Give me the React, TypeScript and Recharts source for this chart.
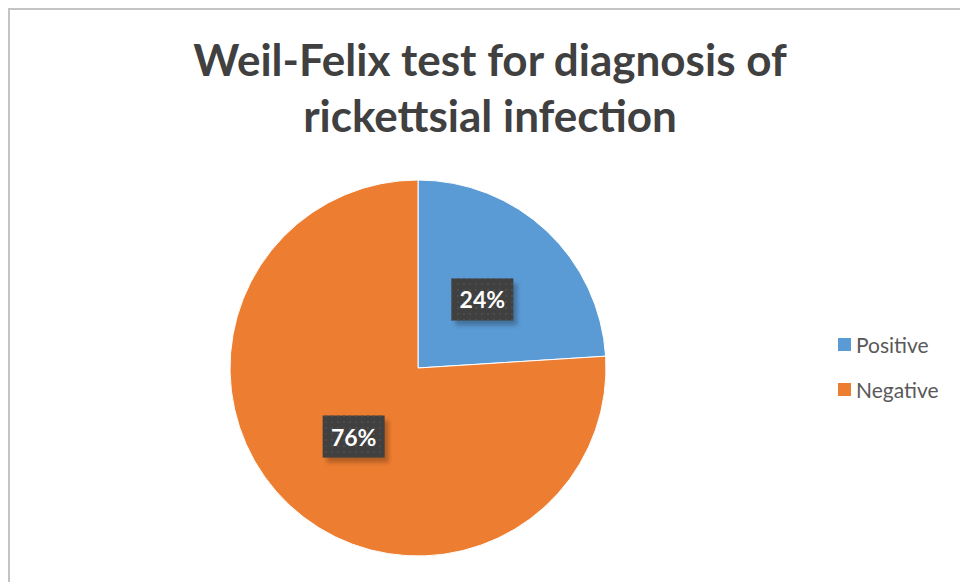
import { PieChart, Pie, Cell } from "recharts";

const categories = ["Positive", "Negative"];
const values = [24, 76];
const COLORS = ["#5b9bd5", "#ed7d31"];

const data = categories.map((name, i) => ({ name, value: values[i] }));

const RADIAN = Math.PI / 180;

const renderLabel = ({ cx, cy, midAngle, outerRadius, percent }: any) => {
  const r = outerRadius * 0.5;
  const x = cx + r * Math.cos(-midAngle * RADIAN);
  const y = cy + r * Math.sin(-midAngle * RADIAN);
  const w = 62;
  const h = 42;
  return (
    <g>
      <rect x={x - w / 2 + 4} y={y - h / 2 + 5} width={w} height={h} fill="#000" opacity={0.25} filter="url(#blur)" />
      <rect x={x - w / 2} y={y - h / 2} width={w} height={h} fill="#404040" />
      <rect x={x - w / 2} y={y - h / 2} width={w} height={h} fill="url(#dots)" />
      <text
        x={x}
        y={y}
        fill="#fff"
        textAnchor="middle"
        dominantBaseline="central"
        fontFamily="Lato, 'Open Sans', sans-serif"
        fontWeight={700}
        fontSize={23}
      >
        {`${(percent * 100).toFixed(0)}%`}
      </text>
    </g>
  );
};

export default function App() {
  return (
    <div style={{ position: "fixed", left: 0, top: 0, width: 960, height: 582, background: "#fff", overflow: "hidden" }}>
      <div
        style={{
          position: "absolute",
          left: 8,
          top: 8,
          width: 1000,
          height: 700,
          borderLeft: "2px solid #c4c4c4",
          borderTop: "2px solid #c4c4c4",
        }}
      />
      <div
        style={{
          position: "absolute",
          left: 0,
          top: 31,
          width: 980,
          textAlign: "center",
          fontFamily: "Lato, 'Open Sans', sans-serif",
          fontWeight: 700,
          fontSize: 44,
          lineHeight: "56px",
          color: "#404040",
        }}
      >
        Weil-Felix test for diagnosis of
        <br />
        rickettsial infection
      </div>
      <div style={{ position: "absolute", left: 0, top: 0 }}>
        <PieChart width={960} height={582}>
          <defs>
            <pattern id="dots" width="6" height="6" patternUnits="userSpaceOnUse">
              <rect x="1" y="1" width="2" height="2" fill="#4c4c4c" />
            </pattern>
            <filter id="blur">
              <feGaussianBlur stdDeviation="2" />
            </filter>
          </defs>
          <Pie
            data={data}
            dataKey="value"
            nameKey="name"
            cx={413}
            cy={363}
            outerRadius={188}
            startAngle={90}
            endAngle={-270}
            stroke="#fff"
            strokeWidth={1}
            labelLine={false}
            label={renderLabel}
            isAnimationActive={false}
          >
            {data.map((d, i) => (
              <Cell key={d.name} fill={COLORS[i]} />
            ))}
          </Pie>
        </PieChart>
      </div>
      <div
        style={{
          position: "absolute",
          left: 838,
          top: 322,
          fontFamily: "Lato, 'Open Sans', sans-serif",
          fontSize: 21,
          color: "#595959",
        }}
      >
        {categories.map((c, i) => (
          <div key={c} style={{ display: "flex", alignItems: "center", height: 45 }}>
            <span style={{ display: "inline-block", width: 13, height: 13, background: COLORS[i], marginRight: 5 }} />
            {c}
          </div>
        ))}
      </div>
    </div>
  );
}
